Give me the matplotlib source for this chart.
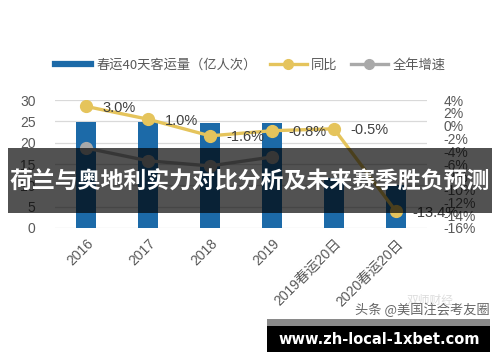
import matplotlib
matplotlib.use("Agg")
import matplotlib.pyplot as plt
from matplotlib.lines import Line2D
from matplotlib.patches import Rectangle
import numpy as np

plt.rcParams['font.family'] = ['Liberation Sans', 'Noto Sans CJK SC', 'DejaVu Sans']

categories = ['2016', '2017', '2018', '2019', '2019春运20日', '2020春运20日']
volume = [24.9, 24.9, 24.7, 24.6, 11.7, 10.1]          # 春运40天客运量（亿人次）
yoy = [3.0, 1.0, -1.6, -0.8, -0.5, -13.4]              # 同比 (%)
yoy_labels = ['3.0%', '1.0%', '-1.6%', '-0.8%', '-0.5%', '-13.4%']
annual = [-3.5, -5.5, -6.3, -4.9]                      # 全年增速 (%)
left_ticks = [0, 5, 10, 15, 20, 25, 30]
right_ticks = [-16, -14, -12, -10, -8, -6, -4, -2, 0, 2, 4]

W, H = 500, 362
fig = plt.figure(figsize=(5, 3.62), dpi=100)
ax = fig.add_axes([55 / W, 1 - 228 / H, (427 - 55) / W, 128 / H])
ax2 = ax.twinx()

blue = '#1c6aa8'
yellow = '#e5c45c'
gray = '#a9a9a9'
tick_color = '#595959'

x = np.arange(len(categories))
ax.bar(x, volume, width=0.32, color=blue, zorder=2)
ax.set_ylim(0, 30)
ax.set_xlim(-0.5, 5.5)
ax.set_yticks(left_ticks)
ax.grid(axis='y', color='#d9d9d9', lw=0.9, zorder=0)
ax.set_axisbelow(True)
for s in ax.spines.values():
    s.set_visible(False)
for s in ax2.spines.values():
    s.set_visible(False)
ax.tick_params(axis='y', length=0, pad=14, labelsize=10, labelcolor=tick_color)
ax.tick_params(axis='x', length=0, pad=6, labelsize=10, labelcolor=tick_color)
ax.set_xticks(x)
ax.set_xticklabels(categories, rotation=45, ha='right', rotation_mode='anchor')

ax2.set_ylim(-16, 4)
ax2.set_yticks(right_ticks)
ax2.set_yticklabels([f'{t}%' for t in right_ticks])
ax2.tick_params(axis='y', length=0, pad=12, labelsize=10, labelcolor=tick_color)

ax2.plot(x, yoy, color=yellow, lw=2.4, marker='o', markersize=8.5, zorder=4)
ax2.plot(x[:len(annual)], annual, color=gray, lw=2.4, marker='o', markersize=8.5, zorder=3)
for xi, yi, lab in zip(x, yoy, yoy_labels):
    ax2.annotate(lab, (xi, yi), xytext=(12, -1), textcoords='offset points',
                 ha='left', va='center', fontsize=10.5, color='#404040', zorder=5)

handles = [Line2D([0], [0], color=blue, lw=4.5),
           Line2D([0], [0], color=yellow, lw=2.4, marker='o', markersize=7),
           Line2D([0], [0], color=gray, lw=2.4, marker='o', markersize=7)]
labels = ['春运40天客运量（亿人次）', '同比', '全年增速']
fig.legend(handles, labels, loc='center', bbox_to_anchor=(250 / W, 1 - 65 / H), ncol=3,
           frameon=False, handlelength=2.8, columnspacing=1.0,
           handletextpad=0.35, labelcolor='#595959',
           prop={'family': ['Noto Sans CJK SC', 'DejaVu Sans'], 'size': 9.5})

# overlay banner
fig.patches.append(Rectangle((8 / W, 1 - 213 / H), 484 / W, 65 / H, transform=fig.transFigure,
                             facecolor='black', alpha=0.68, zorder=10, edgecolor='none'))
fig.text(250 / W, 1 - 181 / H, '荷兰与奥地利实力对比分析及未来赛季胜负预测', ha='center', va='center',
         color='white', fontsize=16.5, fontweight='bold', family=['Noto Sans CJK SC'], zorder=11)

# watermark
fig.text(430 / W, 1 - 300 / H, '双师财经', ha='center', va='center', color='#dddddd',
         fontsize=8.5, family=['Noto Sans CJK SC'], zorder=6)
fig.text(490 / W, 1 - 310 / H, '头条 @美国注会考友圈', ha='right', va='center', color='#666666',
         fontsize=9.5, family=['Noto Sans CJK SC'], zorder=7)

# bottom site box
fig.patches.append(Rectangle((267 / W, 1 - 326 / H), 223 / W, 7 / H, transform=fig.transFigure,
                             facecolor='#8a8a8a', zorder=10, edgecolor='none'))
fig.patches.append(Rectangle((267 / W, 1 - 352 / H), 223 / W, 26 / H, transform=fig.transFigure,
                             facecolor='black', zorder=10, edgecolor='none'))
fig.text(379 / W, 1 - 339 / H, 'www.zh-local-1xbet.com', ha='center', va='center', color='white',
         fontsize=10.5, fontweight='bold', family=['DejaVu Sans'], zorder=11)

fig.savefig('out.png', dpi=100)
